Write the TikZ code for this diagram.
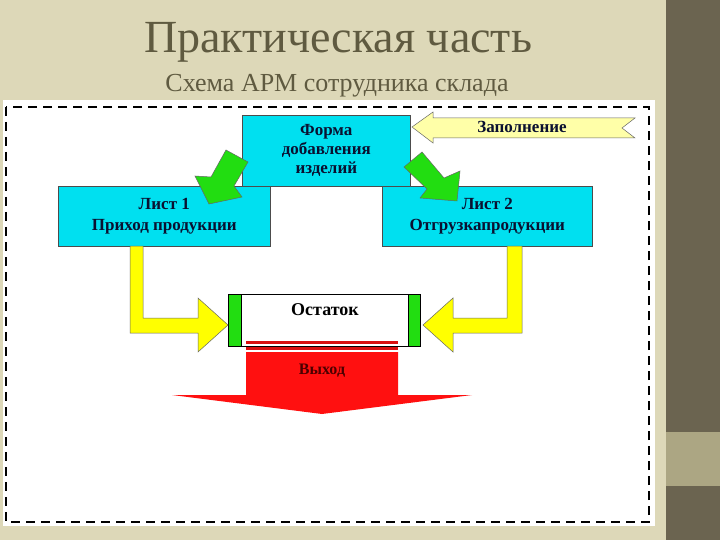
\documentclass[tikz,border=0pt]{standalone}
\usepackage{fontspec}
\setmainfont{Liberation Serif}
\usetikzlibrary{shapes.arrows}
\definecolor{bg}{HTML}{DDD8B8}
\definecolor{dark}{HTML}{6B6450}
\definecolor{olive}{HTML}{ACA683}
\definecolor{titlec}{HTML}{5F5A40}
\definecolor{cy}{HTML}{00E0F0}
\definecolor{txt}{HTML}{0A1030}
\definecolor{ly}{HTML}{FFFFA8}
\definecolor{yy}{HTML}{FFFF00}
\definecolor{gr}{HTML}{22DD11}
\definecolor{rd}{HTML}{FF1010}
\tikzset{
 box/.style={draw=black!70,fill=cy,line width=0.6pt,align=center,font=\bfseries\fontsize{17}{19}\selectfont,text=txt,inner sep=0pt},
 yarrow/.style={fill=yy,draw=black!60,line width=0.5pt},
 garrow/.style={fill=gr,draw=black!60,line width=0.5pt},
}
\begin{document}
\begin{tikzpicture}[x=1pt,y=-1pt]
\useasboundingbox (0,0) rectangle (720,540);
\fill[bg] (0,0) rectangle (720,540);
\fill[dark] (666,0) rectangle (720,540);
\fill[olive] (666,432) rectangle (720,486);
\fill[white] (3,100) rectangle (655,526);
\draw[black,line width=2pt,dash pattern=on 9pt off 6pt] (6,107) rectangle (649,522);
\node[text=titlec,font=\fontsize{46}{48}\selectfont] (title) at (338,42) {Практическая часть};
\node[text=titlec,font=\fontsize{26}{28}\selectfont] (sub) at (337,86) {Схема АРМ сотрудника склада};
% Заполнение arrow
\draw[fill=ly,draw=black!60,line width=0.5pt] (412,127) -- (433,112) -- (433,118) -- (635,118) -- (622,128) -- (635,138) -- (433,138) -- (433,143) -- cycle;
\node[font=\bfseries\fontsize{17}{20}\selectfont,text=txt] (zap) at (522,127) {Заполнение};
% boxes
\node[box,minimum width=168pt,minimum height=71pt,anchor=north west] (form) at (242,115) {Форма\\добавления\\изделий};
\node[box,minimum width=212pt,minimum height=60pt,anchor=north west,font=\bfseries\fontsize{17}{21}\selectfont] (l1) at (58,186) {Лист 1\\Приход продукции};
\node[box,minimum width=210pt,minimum height=60pt,anchor=north west,font=\bfseries\fontsize{17}{21}\selectfont] (l2) at (382,186) {Лист 2\\Отгрузкапродукции};
% green arrows
\draw[garrow] (226,150) -- (248,162) -- (234,186) -- (242,197) -- (209,204) -- (195,176) -- (211,177) -- cycle;
\draw[garrow] (404,167) -- (422,152) -- (444,178) -- (460,171) -- (457,201) -- (420,198) -- (427,189) -- cycle;
% Остаток
\node[draw=black,fill=white,line width=0.8pt,minimum width=192pt,minimum height=52pt,anchor=north west,inner sep=0pt] (ost) at (228,294) {};
\fill[gr,draw=black,line width=0.6pt] (228,294) rectangle (241,346);
\fill[gr,draw=black,line width=0.6pt] (408,294) rectangle (420,346);
\node[font=\bfseries\fontsize{18}{20}\selectfont,text=black] (ostt) at (325,310) {Остаток};
% yellow L arrows
\draw[yarrow] (130,246) -- (143,246) -- (143,318) -- (198,318) -- (198,298) -- (228,325) -- (198,352) -- (198,333) -- (130,333) -- cycle;
\draw[yarrow] (522,246) -- (507,246) -- (507,318) -- (453,318) -- (453,298) -- (423,325) -- (453,352) -- (453,333) -- (522,333) -- cycle;
% red output
\fill[rd!85!black] (246,341) rectangle (398,344);
\fill[rd!85!black] (246,347) rectangle (398,350);
\fill[rd] (246,352) -- (398,352) -- (398,395) -- (472,395) -- (322,414) -- (172,395) -- (246,395) -- cycle;
\node[font=\bfseries\fontsize{16}{18}\selectfont,text=black!70!red] (vyh) at (322,371) {Выход};
\end{tikzpicture}
\end{document}
